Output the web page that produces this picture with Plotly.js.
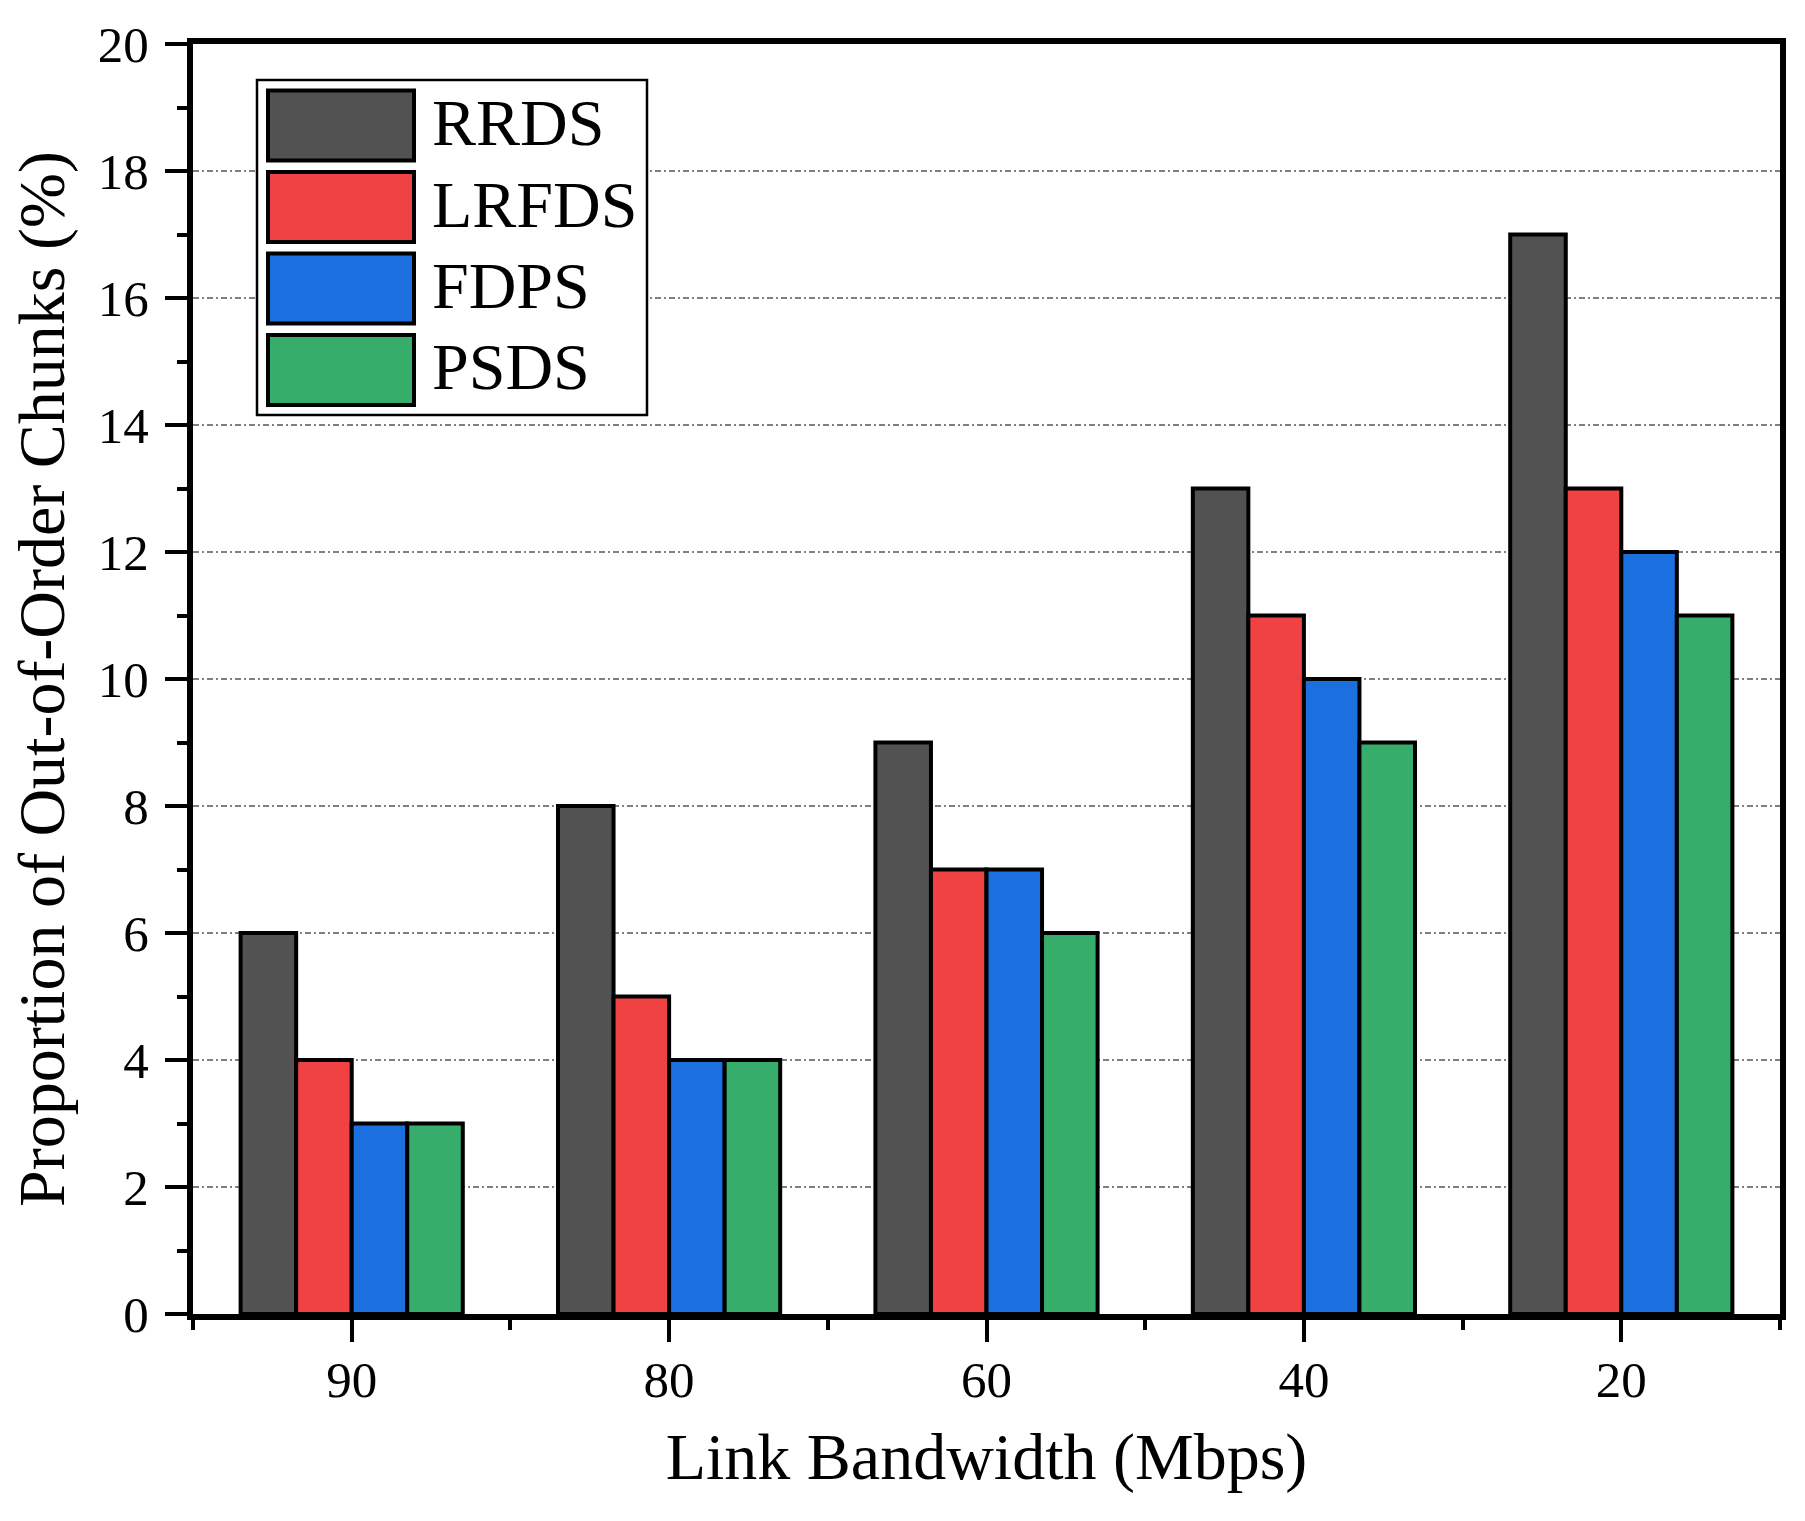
<!DOCTYPE html>
<html>
<head>
<meta charset="utf-8">
<script src="https://cdn.plot.ly/plotly-3.0.1.min.js"></script>
<style>html,body{margin:0;padding:0;background:#fff;}#chart{width:1805px;height:1521px;}</style>
</head>
<body>
<div id="chart"></div>
<script>
// ---- data ----
const categories = ["90", "80", "60", "40", "20"];
const seriesNames = ["RRDS", "LRFDS", "FDPS", "PSDS"];
const rrds  = [6, 8, 9, 13, 17];
const lrfds = [4, 5, 7, 11, 13];
const fdps  = [3, 4, 7, 10, 12];
const psds  = [3, 4, 6, 9, 11];
const seriesColors = ["#525252", "#F04243", "#1B6FDE", "#37AD6B"];
const yTickVals = [0, 2, 4, 6, 8, 10, 12, 14, 16, 18, 20];

// ---- layout geometry (pixels) ----
const W = 1805, H = 1521;
const L = 193, R = 1780, T = 44, B = 1314;
const FONT = "'Liberation Serif', 'Times New Roman', Times, serif";
const px2x = p => (p - L) / (R - L);
const py2y = p => (B - p) / (B - T);

const idx = categories.map((c, i) => i);
const values = [rrds, lrfds, fdps, psds];

const traces = seriesNames.map((name, s) => ({
  type: "bar",
  name: name,
  x: idx,
  y: values[s],
  marker: { color: seriesColors[s], line: { color: "#000", width: 4 } },
  showlegend: false,
  hoverinfo: "x+y+name"
}));

// custom legend (big swatches like the original)
const shapes = [{
  type: "rect", xref: "paper", yref: "paper", layer: "above",
  x0: px2x(257), x1: px2x(647), y0: py2y(415), y1: py2y(80),
  line: { color: "#000", width: 2.5 }, fillcolor: "#fff"
}];
const annotations = [];
const rowCenters = [125.5, 207, 288.5, 370];
seriesNames.forEach((name, s) => {
  const c = rowCenters[s];
  shapes.push({
    type: "rect", xref: "paper", yref: "paper", layer: "above",
    x0: px2x(268), x1: px2x(414), y0: py2y(c + 35), y1: py2y(c - 35),
    line: { color: "#000", width: 4 }, fillcolor: seriesColors[s]
  });
  annotations.push({
    xref: "paper", yref: "paper", x: px2x(430), y: py2y(c - 3),
    xanchor: "left", yanchor: "middle", showarrow: false,
    text: name, font: { family: FONT, size: 66, color: "#000" }
  });
});

const layout = {
  width: W, height: H,
  margin: { l: L, r: W - R, t: T, b: H - B, pad: 0 },
  paper_bgcolor: "#fff", plot_bgcolor: "#fff",
  font: { family: FONT, color: "#000" },
  barmode: "group", bargap: 0.3, bargroupgap: 0,
  xaxis: {
    type: "linear", range: [-0.5, 4.5],
    tickmode: "array", tickvals: idx, ticktext: categories,
    ticks: "outside", ticklen: 22, tickwidth: 4, tickcolor: "#000",
    minor: { tickmode: "array", tickvals: [-0.5, 0.5, 1.5, 2.5, 3.5, 4.5], ticks: "outside", ticklen: 10, tickwidth: 4, tickcolor: "#000", showgrid: false },
    showline: true, linecolor: "#000", linewidth: 6, mirror: true,
    showgrid: false, zeroline: false,
    tickfont: { family: FONT, size: 51, color: "#000" },
    ticklabelstandoff: -6,
    title: { text: "Link Bandwidth (Mbps)", font: { family: FONT, size: 66, color: "#000" }, standoff: 28 },
    automargin: false, fixedrange: true
  },
  yaxis: {
    range: [0, 20], tickmode: "array", tickvals: yTickVals,
    ticks: "outside", ticklen: 22, tickwidth: 4, tickcolor: "#000",
    minor: { dtick: 1, tick0: 0, ticks: "outside", ticklen: 10, tickwidth: 4, tickcolor: "#000", showgrid: false },
    showline: true, linecolor: "#000", linewidth: 6, mirror: true,
    showgrid: true, gridcolor: "#808080", gridwidth: 2.5, griddash: "6px,3px,2px,3px",
    zeroline: false,
    tickfont: { family: FONT, size: 51, color: "#000" },
    ticklabelstandoff: 6,
    title: { text: "Proportion of Out-of-Order Chunks (%)", font: { family: FONT, size: 66, color: "#000" }, standoff: 14 },
    automargin: false, fixedrange: true
  },
  shapes: shapes,
  annotations: annotations,
  showlegend: false
};

Plotly.newPlot("chart", traces, layout, { displayModeBar: false, staticPlot: true });
</script>
</body>
</html>
